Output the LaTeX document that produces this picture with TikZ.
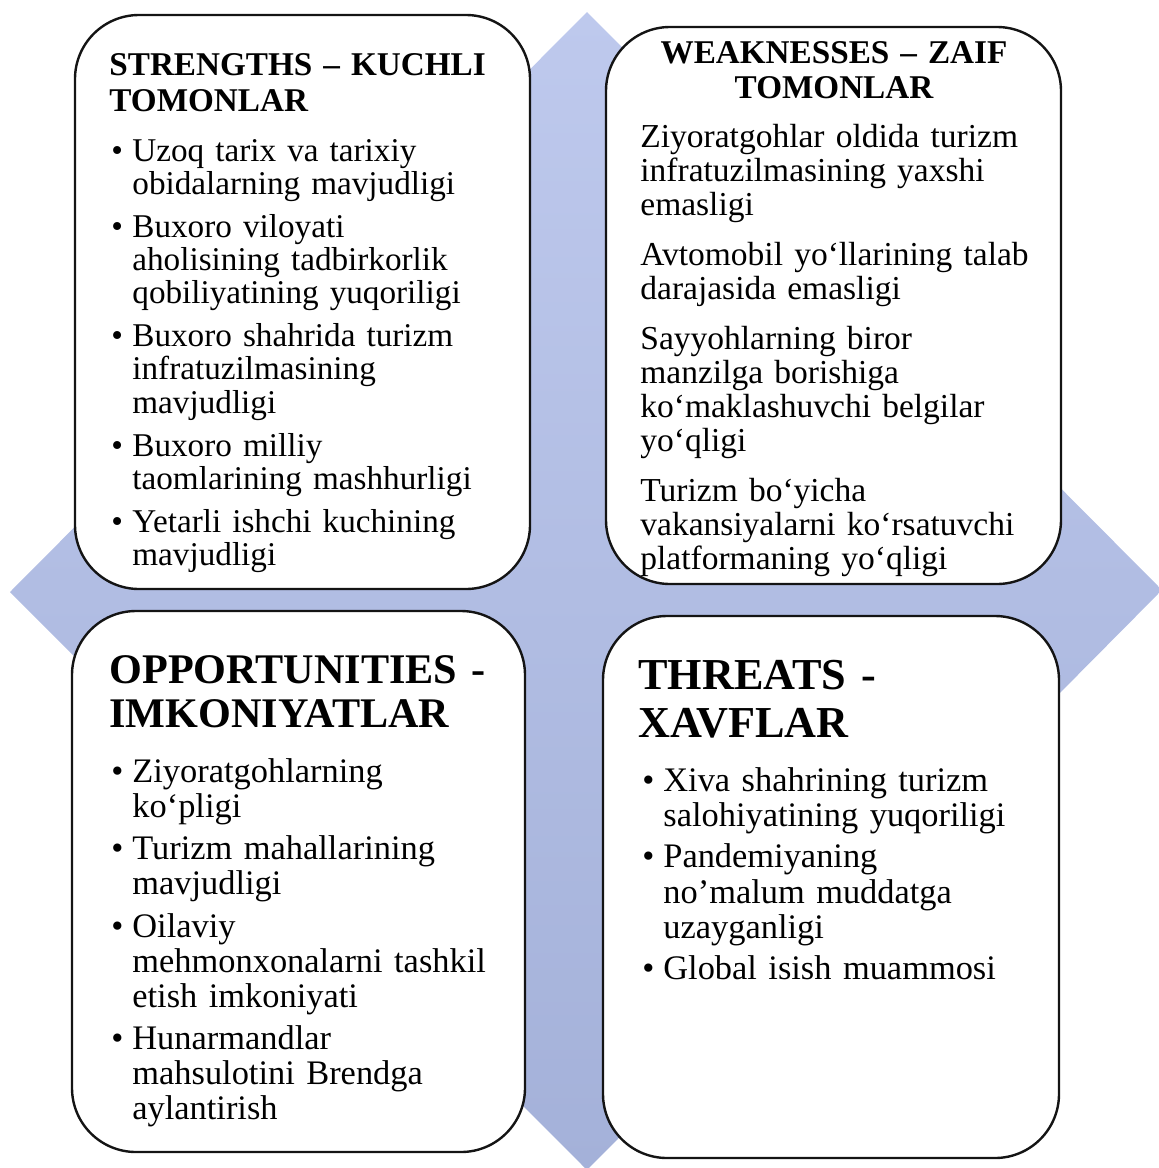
\documentclass[tikz,border=0pt]{standalone}
\usepackage{fontspec}
\setmainfont{Liberation Serif}
\usepackage{tikz}
\usetikzlibrary{positioning}
\definecolor{diamtop}{RGB}{190,201,237}
\definecolor{diambot}{RGB}{164,177,217}
\definecolor{boxline}{RGB}{20,20,20}
\tikzset{
  swotbox/.style  = {draw=boxline, line width=1.2pt, fill=white, rounded corners=32pt,
                     inner sep=0pt},
  swothead/.style = {anchor=base west, inner sep=0pt, text width=225pt, align=left},
  swotbody/.style = {anchor=base west, inner sep=0pt, text width=225pt, align=left},
}
% one bullet item, lines broken by hand
\newcommand{\swotitem}[1]{\hangindent=10.5pt\hangafter=1\noindent
  \makebox[10.5pt][l]{\textbullet}#1\par}

\begin{document}
\begin{tikzpicture}[x=0.5pt, y=-0.5pt]
\useasboundingbox (0,0) rectangle (1158,1168);

% background diamond
\shade[top color=diamtop, bottom color=diambot]
  (587,12) -- (1162,590) -- (587,1170) -- (10,592) -- cycle;

\node[swotbox, minimum width=227.5pt, minimum height=287pt] (sbox) at (302.5,302) {};
\node[swotbox, minimum width=227.5pt, minimum height=278.5pt] (wbox) at (833.5,305.5) {};
\node[swotbox, minimum width=226.5pt, minimum height=270.5pt] (obox) at (298.5,881.5) {};
\node[swotbox, minimum width=228pt, minimum height=271pt] (tbox) at (831,887) {};

% strengths
\node[swothead, font=\fontsize{16.6}{18}\selectfont\bfseries] (shead) at (109,75)
  {STRENGTHS – KUCHLI\\TOMONLAR};
\node[swotbody, font=\fontsize{16.6}{16.6}\selectfont,
      execute at begin node={\setlength{\parskip}{4.9pt}}] (sbody) at (111,161)
  {\swotitem{Uzoq tarix va tarixiy\newline obidalarning mavjudligi}
   \swotitem{Buxoro viloyati\newline aholisining tadbirkorlik\newline qobiliyatining yuqoriligi}
   \swotitem{Buxoro shahrida turizm\newline infratuzilmasining\newline mavjudligi}
   \swotitem{Buxoro milliy\newline taomlarining mashhurligi}
   \swotitem{Yetarli ishchi kuchining\newline mavjudligi}};

% weaknesses
\node[swothead, anchor=base, align=center, font=\fontsize{16.6}{17.5}\selectfont\bfseries]
  (whead) at (834,63) {WEAKNESSES – ZAIF\\TOMONLAR};
\node[swotbody, font=\fontsize{16.75}{17}\selectfont,
      execute at begin node={\setlength{\parskip}{8pt}}] (wbody) at (640,147)
  {Ziyoratgohlar oldida turizm\newline infratuzilmasining yaxshi\newline emasligi\par
   Avtomobil yo‘llarining talab\newline darajasida emasligi\par
   Sayyohlarning biror\newline manzilga borishiga\newline ko‘maklashuvchi belgilar\newline yo‘qligi\par
   Turizm bo‘yicha\newline vakansiyalarni ko‘rsatuvchi\newline platformaning yo‘qligi};

% opportunities
\node[swothead, font=\fontsize{21.1}{22}\selectfont\bfseries] (ohead) at (109,683)
  {OPPORTUNITIES -\\IMKONIYATLAR};
\node[swotbody, font=\fontsize{17.2}{17.5}\selectfont,
      execute at begin node={\setlength{\parskip}{3.75pt}}] (obody) at (111,782)
  {\swotitem{Ziyoratgohlarning\newline ko‘pligi}
   \swotitem{Turizm mahallarining\newline mavjudligi}
   \swotitem{Oilaviy\newline mehmonxonalarni tashkil\newline etish imkoniyati}
   \swotitem{Hunarmandlar\newline mahsulotini Brendga\newline aylantirish}};

% threats
\node[swothead, font=\fontsize{22.1}{24}\selectfont\bfseries] (thead) at (638,689)
  {THREATS -\\XAVFLAR};
\node[swotbody, font=\fontsize{17.2}{17.75}\selectfont,
      execute at begin node={\setlength{\parskip}{2.75pt}}] (tbody) at (642,791)
  {\swotitem{Xiva shahrining turizm\newline salohiyatining yuqoriligi}
   \swotitem{Pandemiyaning\newline no’malum muddatga\newline uzayganligi}
   \swotitem{Global isish muammosi}};

\end{tikzpicture}
\end{document}
